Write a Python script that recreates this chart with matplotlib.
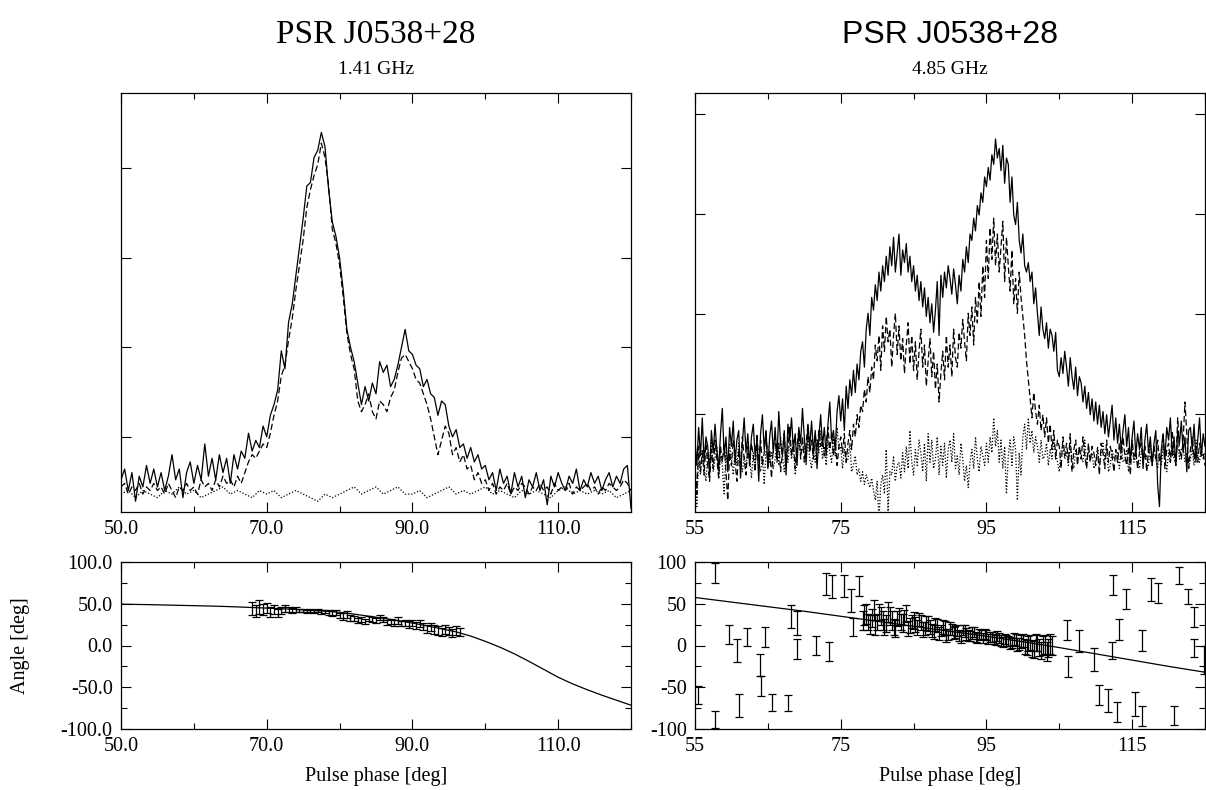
import numpy as np
import matplotlib
matplotlib.use("Agg")
import matplotlib.pyplot as plt
from matplotlib.ticker import FixedLocator, MultipleLocator, FormatStrFormatter

plt.rcParams['font.family'] = ['Liberation Serif', 'DejaVu Serif']

# ---------------- data ----------------
titles = ["PSR J0538+28", "PSR J0538+28"]
freqs = ["1.41 GHz", "4.85 GHz"]

# Left profile (1.41 GHz), phase 50..120 deg, 0.5 deg bins
left_start, left_step = 50.0, 0.5
left_I = [3, 6, 0, 5, -3, 4, 1, 7, 2, 6, 1, 5, 0, 4, 10, 3, 6, -2, 5, 8,
          2, 7, 3, 13, 4, 9, 3, 10, 5, 9, 2, 10, 6, 11, 9, 16, 11, 14, 12, 18,
          15, 21, 24, 28, 39, 34, 47, 52, 60, 68, 76, 85, 86, 93, 95, 100, 96, 84, 75, 71,
          65, 56, 45, 40, 36, 30, 24, 29, 25, 30, 27, 36, 33, 35, 29, 31, 35, 40, 45, 39,
          38, 35, 34, 29, 31, 27, 26, 21, 25, 24, 18, 15, 17, 12, 13, 9, 12, 8, 10, 6,
          7, 3, 5, 0, 6, 2, 4, -1, 5, 1, 4, -2, 3, 1, 5, 0, 3, -4, 4, 1,
          5, 2, 0, 4, 2, 6, 0, 3, 1, 5, 2, 4, 0, 3, 5, 1, 4, 2, 6, 7, -5]
left_L = [1, 2, -1, 1, 0, 2, -1, 1, 0, 2, 0, 1, -1, 2, 0, -2, 1, 0, 2, 0,
          1, -1, 3, 1, 2, 0, 3, 1, 4, 2, 3, 1, 4, 2, 5, 8, 10, 9, 11, 13,
          12, 16, 21, 25, 32, 35, 42, 48, 56, 63, 70, 79, 84, 88, 91, 97, 93, 85, 73, 69,
          63, 54, 44, 38, 34, 25, 22, 24, 27, 22, 20, 25, 24, 22, 26, 28, 33, 37, 38, 36,
          34, 31, 30, 27, 24, 20, 15, 10, 14, 18, 16, 10, 12, 8, 10, 6, 7, 3, 5, 2,
          3, 0, 2, -1, 1, 0, 2, -1, 1, 0, 2, 1, -1, 1, 0, 2, 0, 1, -1, 2,
          0, 1, 0, 2, -1, 1, 0, 1, 2, 0, 1, -1, 1, 0, 2, 1, 0, 1, 3, 2, 0]
left_V_step = 1.0
left_V = [-1, 0, -2, 0, -1, -2, 0, -1, 1, -1, 0, -2, -1, 0, 1, -1, 0, -1, -2, 0,
          -1, 0, -2, -1, 0, -1, -2, -3, -1, -2, -1, 0, 1, -1, 0, 1, -1, 0, 1, -1,
          -1, 0, -2, -1, 0, 1, -1, 0, -1, 0, 1, -1, 0, -1, -2, 0, -1, 0, -1, -2,
          0, 1, -1, 0, -1, 0, -1, 0, -2, -1, 0]

# Right profile (4.85 GHz), phase 55..125 deg, 0.25 deg bins
right_start, right_step = 55.0, 0.25
right_I = [5, -3, 9, 0, 12, -2, 6, 3, -6, 8, 1, 10, 2, -4, 7, 15, 0, 6, -5, 9,
           3, 11, -2, 5, 8, -7, 4, 12, 1, 7, -3, 6, 10, 0, 5, -8, 7, 13, 2, 8,
           -4, 6, 11, 1, 9, -1, 14, 4, 0, 8, -6, 10, 5, 12, 2, 7, -3, 9, 4, 15,
           6, -2, 10, 3, 11, 1, 8, -4, 6, 13, 3, 9, 0, 10, 17, 5, 8, 2, 14, 19,
           11, 18, 8, 22, 15, 24, 19, 27, 20, 29, 24, 33, 36, 28, 40, 45, 38, 50, 46, 54,
           49, 58, 52, 60, 55, 63, 57, 66, 60, 69, 58, 64, 70, 57, 65, 61, 67, 58, 63, 55,
           60, 52, 57, 49, 55, 47, 53, 44, 50, 42, 48, 39, 46, 55, 38, 57, 50, 58, 53, 60,
           56, 51, 59, 54, 48, 57, 52, 62, 58, 66, 61, 70, 68, 75, 71, 79, 76, 83, 80, 88,
           85, 91, 87, 95, 92, 100, 94, 97, 90, 98, 86, 94, 92, 80, 88, 76, 73, 80, 68, 64,
           70, 60, 58, 61, 55, 58, 48, 53, 45, 38, 47, 40, 37, 42, 34, 40, 38, 33, 39, 27,
           25, 31, 26, 33, 28, 22, 31, 25, 21, 28, 19, 25, 23, 17, 22, 15, 20, 13, 18, 11,
           17, 10, 16, 9, 14, 7, 13, 6, 11, 16, 5, 12, 4, 10, 2, 8, 13, 3, 9, -2,
           6, 11, 0, 7, 2, 9, -4, 5, 10, 1, 6, -3, 4, 8, -9, -16, 2, 7, -1, 9,
           5, 12, 0, 6, -3, 8, 4, 11, 1, 6, -5, 8, 9, 2, 10, -2, 5, 12, 0, 7, 3]
right_L = [-2, -12, 3, -5, 1, -6, 4, -3, -8, 2, -4, 5, -1, -7, 3, -2, 4, -5, -14, 1,
           -3, 5, -2, -8, 2, -4, 6, -1, -6, 3, -3, 4, 0, -5, 7, -2, 5, -3, 1, 8,
           -4, 2, -7, 3, 6, -2, 4, -5, 1, 7, -3, 2, 9, 0, 5, -4, 3, 8, -1, 6,
           -2, 4, 10, 1, 5, -1, 7, 2, 8, 3, 6, 0, 4, 9, 2, 7, 0, 5, -3, 3,
           6, 1, 7, -2, 4, 8, 2, 10, 6, 13, 9, 16, 14, 21, 17, 25, 20, 28, 24, 35,
           30, 38, 27, 41, 33, 44, 36, 40, 28, 38, 45, 32, 41, 30, 37, 26, 35, 42, 29, 38,
           27, 36, 24, 33, 40, 28, 35, 22, 30, 37, 25, 33, 21, 29, 17, 26, 33, 24, 38, 28,
           35, 25, 40, 31, 28, 39, 34, 43, 36, 30, 45, 38, 47, 35, 50, 42, 55, 44, 60, 50,
           68, 56, 72, 62, 75, 60, 70, 58, 66, 74, 55, 69, 60, 52, 65, 48, 56, 45, 58, 50,
           44, 38, 30, 24, 18, 12, 20, 14, 10, 16, 8, 13, 6, 12, 4, 10, 2, 8, -1, 5,
           3, -4, 6, 0, 4, -2, 7, -5, 2, 5, -3, 3, -1, 6, 0, -4, 4, -2, 3, 1,
           -3, 2, -6, 4, 1, -4, 5, -2, 3, 0, -5, 2, -2, 4, -1, 6, 0, -3, 3, -6,
           5, -1, 2, -4, 1, 4, -2, 3, -5, 2, 0, -3, 3, -1, 5, -2, 0, 7, -4, 2,
           4, -2, 8, 1, -3, 12, 2, -1, 5, 17, 7, -4, 2, 6, -1, 3, -2, 4, 0, 1, -3]
right_V = [-3, -16, 0, -6, 2, -4, -8, 1, -2, 5, -5, -1, 3, -7, 0, -3, -12, 1, -4, 4,
           -1, -6, 2, -3, 4, -2, -5, 0, -4, 3, -1, -7, 1, -3, 5, -2, -5, 0, -9, 2,
           3, -2, 1, -4, -1, 4, -3, 6, 0, -5, 2, -2, 5, -1, 3, -6, -2, 7, 0, 2,
           4, -3, 6, -1, -4, 2, -2, 5, 1, 8, -1, 3, -3, 5, 1, -2, 6, 0, 9, 2,
           3, -4, 2, -2, -1, 4, -5, -3, 0, -6, -4, -8, -5, -9, -6, -8, -10, -7, -11, -14,
           -8, -20, -9, -6, -12, 2, -18, -5, -6, 0, -8, -3, -2, -7, 1, -5, 3, -4, 8, -2,
           -6, 2, -3, 5, 1, -5, 4, -8, 7, -2, 5, -4, -1, 6, -6, 3, -3, 4, -7, 2,
           5, -2, 7, -4, 0, -6, 4, -1, -8, -3, -10, -2, 2, -4, 6, -1, -5, 3, 0, -3,
           4, -2, 6, 1, 12, 3, 8, -2, 5, -4, 3, -12, 0, 5, -3, 6, 2, -14, 1, -6,
           6, 10, 2, 12, 4, 8, 1, 6, 3, -2, 5, -1, 0, 4, -3, 2, -1, 5, 1, -2,
           -5, 2, 3, -1, 1, -3, 4, -2, -4, 2, -1, 3, 0, -2, 5, -3, 2, -1, 1, -4,
           -2, 3, -3, 1, 4, -1, 2, -5, -3, 2, -1, 0, 1, -4, 3, -2, -1, 2, -5, 1,
           3, -2, 0, -3, -4, 1, 2, -1, 0, -3, 4, -2, 2, -1, -4, 1, -3, 2, 0, -5,
           1, -2, 3, -1, -2, 4, -1, 2, 3, -2, 1, -4, -1, 2, -3, 5, 0, -2, 3, -1, 1]

# Left PA (1.41 GHz)
pa_left_start, pa_left_step = 68.0, 0.5
pa_left = [44, 41, 46, 43, 45, 40, 43, 39, 42, 44, 43, 42, 43, 42, 42, 41, 42, 41, 42, 40,
           41, 39, 38, 39, 36, 35, 37, 33, 32, 30, 31, 29, 32, 31, 30, 33, 31, 28, 29, 27,
           30, 26, 27, 25, 27, 24, 26, 23, 20, 22, 19, 18, 16, 19, 17, 15, 18, 16]
pa_left_err = [8, 7, 8, 7, 6, 6, 5, 5, 4, 4, 3, 3, 3, 2, 2, 2, 2, 2, 2, 2,
               2, 3, 3, 3, 3, 4, 4, 4, 3, 3, 3, 3, 3, 3, 3, 3, 3, 3, 3, 4,
               4, 3, 4, 4, 4, 4, 4, 4, 5, 5, 5, 5, 5, 5, 5, 5, 5, 5]
fit_left_phase = [50, 52, 54, 56, 58, 60, 62, 64, 66, 68, 70, 72, 74, 76, 78, 80, 82, 84,
                  86, 88, 90, 92, 94, 96, 98, 100, 102, 104, 106, 108, 110, 112, 114, 116, 118, 120]
fit_left = [49.5, 49.2, 48.9, 48.5, 48.1, 47.7, 47.3, 46.8, 46.2, 45.5, 44.8, 44.0, 43.2, 42.3,
            41.2, 39.8, 37.6, 35.1, 32.6, 29.9, 26.9, 23.5, 20.0, 16.3, 11.3, 5.0, -2.0, -10.0,
            -19.0, -28.5, -38.0, -46.0, -53.0, -59.5, -65.5, -71.5]

# Right PA (4.85 GHz): scattered points + dense cluster
pa_right_out_phase = [55.35, 57.8, 57.8, 59.7, 60.7, 61.0, 62.2, 63.9, 64.0, 64.6, 65.5, 67.7,
                      68.2, 69.0, 69.0, 71.6, 73.0, 73.4, 73.8, 75.4, 76.4, 76.7, 77.5,
                      106.1, 106.2, 107.7, 109.8, 110.4, 111.7, 112.2, 112.4, 112.9, 113.2,
                      114.2, 115.4, 116.3, 116.3, 117.6, 118.6, 120.8, 121.4, 122.7, 123.5,
                      123.5, 124.8]
pa_right_out = [-59, 87, -89, 13, -6, -72, 10, -23, -48, 10, -68, -69,
                35, 27, -4, 0, 74, -7, 71, 71, 54, 22, 71,
                19, -25, 5, -17, -59, -66, -6, 73, -80, 19,
                56, -70, 6, -84, 67, 63, -84, 84, 59, 34,
                -3, -17]
pa_right_out_err = [11, 12, 10, 11, 14, 14, 11, 13, 12, 12, 10, 10,
                    14, 14, 12, 11, 13, 11, 14, 13, 14, 11, 12,
                    12, 13, 13, 14, 12, 14, 10, 12, 12, 13,
                    12, 14, 12, 12, 14, 12, 11, 10, 9, 12,
                    11, 17]
pa_right_cl_start, pa_right_cl_step = 78.0, 0.5
pa_right_cl = [30, 38, 25, 42, 28, 35, 22, 40, 30, 20, 35, 27, 38, 24, 30, 22, 28, 20, 26, 18,
               25, 14, 22, 12, 20, 15, 18, 10, 17, 12, 15, 10, 14, 9, 13, 10, 8, 11, 6, 8,
               5, 3, 7, 2, 6, -2, 4, -5, 3, -6, 1, -3, 0]
pa_right_cl_err = [11, 12, 11, 12, 10, 11, 10, 12, 11, 10, 10, 11, 10, 9, 10, 9, 9, 8, 9, 8,
                   8, 8, 8, 8, 8, 7, 7, 7, 7, 7, 7, 6, 6, 6, 6, 6, 6, 6, 6, 6,
                   6, 6, 7, 7, 8, 9, 9, 10, 10, 10, 11, 11, 11]
pa_right_cl2_start = 78.25
pa_right_cl2 = [36, 28, 33, 24, 40, 30, 26, 35, 22, 32, 28, 34, 20, 29, 25, 31, 19, 27, 22, 16,
                24, 18, 21, 13, 19, 16, 12, 18, 14, 11, 16, 9, 12, 14, 8, 10, 7, 9, 4, 6,
                3, 8, 1, 5, -1, 2, -4, 4, -2, 0, -7, 2]
pa_right_cl2_err = [12, 10, 11, 12, 10, 11, 10, 11, 10, 9, 10, 9, 9, 8, 9, 8, 9, 8, 8, 8,
                    8, 7, 8, 7, 7, 7, 7, 6, 7, 6, 6, 6, 6, 6, 6, 6, 6, 6, 6, 6,
                    7, 7, 8, 8, 9, 9, 10, 10, 10, 11, 11, 12]
fit_right_phase = [55, 60, 65, 70, 75, 80, 85, 90, 95, 100, 105, 110, 115, 120, 125]
fit_right = [57.5, 52, 46.5, 41, 35, 29, 23, 17, 11, 4.5, -2.5, -10, -17.5, -25, -32]

left_xticks = [50, 70, 90, 110]
left_xminor = [60, 80, 100, 120]
right_xticks = [55, 75, 95, 115]
right_xminor = [65, 85, 105, 125]

# ---------------- figure ----------------
W, H = 1206, 790
fig = plt.figure(figsize=(W / 100, H / 100), dpi=100)

def px_axes(x0, x1, y0, y1):
    return fig.add_axes([x0 / W, 1 - y1 / H, (x1 - x0) / W, (y1 - y0) / H])

axL = px_axes(121, 631, 93, 512)
axR = px_axes(695, 1205, 93, 512)
paL = px_axes(121, 631, 562, 729)
paR = px_axes(695, 1205, 562, 729)

TL_MAJ, TL_MIN = 7.5, 4.5
for ax in (axL, axR, paL, paR):
    for s in ax.spines.values():
        s.set_linewidth(0.9)
    ax.tick_params(which='both', direction='in', top=True, right=True, width=0.8,
                   labelsize=14.5, pad=6)
    ax.tick_params(which='major', length=TL_MAJ)
    ax.tick_params(which='minor', length=TL_MIN)

def grid(start, step, n):
    return start + step * np.arange(n)

lw = 0.9
eb = dict(fmt='none', ecolor='black', elinewidth=0.9, capsize=3, capthick=0.9)

# Left profile
axL.plot(grid(left_start, left_step, len(left_I)), left_I, color='black', lw=lw)
axL.plot(grid(left_start, left_step, len(left_L)), left_L, color='black', lw=lw, dashes=(5, 2.5))
axL.plot(grid(left_start, left_V_step, len(left_V)), left_V, color='black', lw=lw, dashes=(1, 1.5))
axL.set_xlim(50, 120)
axL.set_ylim(-6, 111)
axL.yaxis.set_major_locator(FixedLocator([15, 40, 65, 90]))
axL.set_yticklabels([])
axL.xaxis.set_major_locator(FixedLocator(left_xticks))
axL.xaxis.set_minor_locator(FixedLocator(left_xminor))
axL.xaxis.set_major_formatter(FormatStrFormatter('%.1f'))

# Right profile
axR.plot(grid(right_start, right_step, len(right_I)), right_I, color='black', lw=lw)
axR.plot(grid(right_start, right_step, len(right_L)), right_L, color='black', lw=lw, dashes=(5, 2.5))
axR.plot(grid(right_start, right_step, len(right_V)), right_V, color='black', lw=lw, dashes=(1, 1.5))
axR.set_xlim(55, 125)
axR.set_ylim(-17.7, 114.5)
axR.yaxis.set_major_locator(FixedLocator([13.1, 44.7, 76.3, 107.9]))
axR.set_yticklabels([])
axR.xaxis.set_major_locator(FixedLocator(right_xticks))
axR.xaxis.set_minor_locator(FixedLocator(right_xminor))
axR.xaxis.set_major_formatter(FormatStrFormatter('%d'))

# Left PA
paL.plot(fit_left_phase, fit_left, color='black', lw=lw)
paL.errorbar(grid(pa_left_start, pa_left_step, len(pa_left)), pa_left, yerr=pa_left_err, **eb)
paL.set_xlim(50, 120)
paL.set_ylim(-100, 100)
paL.xaxis.set_major_locator(FixedLocator(left_xticks))
paL.xaxis.set_minor_locator(FixedLocator(left_xminor))
paL.xaxis.set_major_formatter(FormatStrFormatter('%.1f'))
paL.yaxis.set_major_locator(MultipleLocator(50))
paL.yaxis.set_minor_locator(MultipleLocator(25))
paL.yaxis.set_major_formatter(FormatStrFormatter('%.1f'))
paL.set_xlabel('Pulse phase [deg]', fontsize=14.5, labelpad=8)
paL.set_ylabel('Angle [deg]', fontsize=14.5, labelpad=22)

# Right PA
paR.plot(fit_right_phase, fit_right, color='black', lw=lw)
paR.errorbar(pa_right_out_phase, pa_right_out, yerr=pa_right_out_err, **eb)
paR.errorbar(grid(pa_right_cl_start, pa_right_cl_step, len(pa_right_cl)), pa_right_cl,
             yerr=pa_right_cl_err, **eb)
paR.errorbar(grid(pa_right_cl2_start, pa_right_cl_step, len(pa_right_cl2)), pa_right_cl2,
             yerr=pa_right_cl2_err, **eb)
paR.set_xlim(55, 125)
paR.set_ylim(-100, 100)
paR.xaxis.set_major_locator(FixedLocator(right_xticks))
paR.xaxis.set_minor_locator(FixedLocator(right_xminor))
paR.xaxis.set_major_formatter(FormatStrFormatter('%d'))
paR.yaxis.set_major_locator(MultipleLocator(50))
paR.yaxis.set_minor_locator(MultipleLocator(25))
paR.yaxis.set_major_formatter(FormatStrFormatter('%d'))
paR.set_xlabel('Pulse phase [deg]', fontsize=14.5, labelpad=8)

# Titles
fig.text(376 / W, 1 - 35 / H, titles[0], ha='center', va='center', fontsize=24,
         family=['Liberation Serif', 'DejaVu Serif'])
fig.text(950 / W, 1 - 35 / H, titles[1], ha='center', va='center', fontsize=23,
         family=['Liberation Sans', 'DejaVu Sans'])
fig.text(376 / W, 1 - 70 / H, freqs[0], ha='center', va='center', fontsize=14)
fig.text(950 / W, 1 - 70 / H, freqs[1], ha='center', va='center', fontsize=14)

fig.savefig('out.png', dpi=100)
